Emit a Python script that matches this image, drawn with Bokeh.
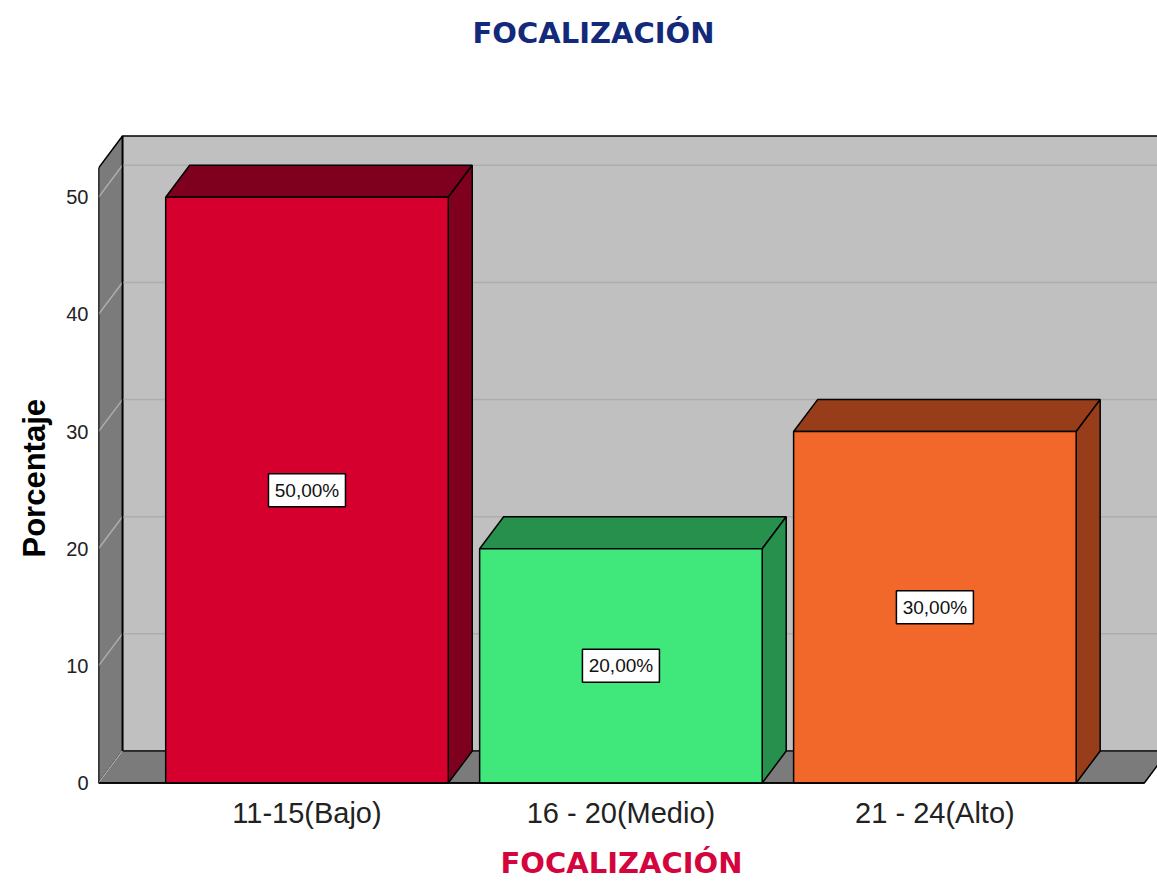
from bokeh.plotting import figure
from bokeh.models import ColumnDataSource, FixedTicker, Range1d, Title
from bokeh.core.properties import value
from bokeh.embed import file_html
from bokeh.resources import INLINE

# ---- data ----
title_text = "FOCALIZACIÓN"
y_title = "Porcentaje"
categories = ["11-15(Bajo)", "16 - 20(Medio)", "21 - 24(Alto)"]
percentages = [50.0, 20.0, 30.0]
y_ticks = [0, 10, 20, 30, 40, 50]
front_colors = ["#d6002f", "#40e87c", "#f2682b"]
shade_colors = ["#7e001e", "#27904c", "#983d1a"]

# ---- geometry constants (3D look) ----
DX = 0.0764      # depth offset in x units
DY = 2.73        # depth offset in y units
X0 = 0.336       # front-left edge of the box
X1 = 3.667       # front-right edge of the floor
YMAX = 52.5      # top of the value axis
HALF_W = 0.45
XR_END = 3.709
YR_START, YR_END = -0.3, 55.7

p = figure(width=1157, height=892,
           x_range=Range1d(X0, XR_END), y_range=Range1d(YR_START, YR_END),
           output_backend="svg", toolbar_location=None,
           min_border_left=98, min_border_right=0,
           min_border_top=130, min_border_bottom=106)
p.outline_line_color = None
p.xgrid.visible = False
p.ygrid.visible = False
p.background_fill_color = "white"
p.border_fill_color = "white"

# ---- walls ----
wall_gray = "#7b7b7b"
back_gray = "#c0c0c0"
p.patch([X0 + DX, X1 + 2, X1 + 2, X0 + DX], [DY, DY, YMAX + DY, YMAX + DY],
        fill_color=back_gray, line_color="black", line_width=1.5)
p.patch([X0, X0, X0 + DX, X0 + DX], [0, YMAX, YMAX + DY, DY],
        fill_color=wall_gray, line_color="black", line_width=1.5)
p.patch([X0, X0 + DX, X1 + DX, X1], [0, DY, DY, 0],
        fill_color=wall_gray, line_color="black", line_width=1.5)

# grid lines on the walls
grid_xs, grid_ys = [], []
for t in y_ticks:
    grid_xs.append([X0, X0 + DX])
    grid_ys.append([t, t + DY])
    if t > 0:
        grid_xs.append([X0 + DX, X1 + 2])
        grid_ys.append([t + DY, t + DY])
p.multi_line(grid_xs, grid_ys, line_color="#adadad", line_width=1.5)
p.line([X0 + DX, X0 + DX], [DY, YMAX + DY], line_color="black", line_width=1.5)
p.line([X0 + DX, X1 + 2], [DY, DY], line_color="#444444", line_width=1.2)

# ---- bars ----
front_xs, front_ys, shade_xs, shade_ys, f_col, s_col = [], [], [], [], [], []
for i, v in enumerate(percentages):
    c = i + 1
    l, r = c - HALF_W, c + HALF_W
    front_xs.append([l, r, r, l]); front_ys.append([0, 0, v, v]); f_col.append(front_colors[i])
    shade_xs.append([l, l + DX, r + DX, r]); shade_ys.append([v, v + DY, v + DY, v]); s_col.append(shade_colors[i])
    shade_xs.append([r, r, r + DX, r + DX]); shade_ys.append([0, v, v + DY, DY]); s_col.append(shade_colors[i])

p.patches(xs="xs", ys="ys", fill_color="c", line_color="black", line_width=1.5,
          source=ColumnDataSource(dict(xs=shade_xs, ys=shade_ys, c=s_col)))
p.patches(xs="xs", ys="ys", fill_color="c", line_color="black", line_width=1.5,
          source=ColumnDataSource(dict(xs=front_xs, ys=front_ys, c=f_col)))

# front axis lines
p.line([X0, X0], [0, YMAX], line_color="black", line_width=1.5)
p.line([X0, X1], [0, 0], line_color="black", line_width=1.5)

# ---- value labels ----
lab_src = ColumnDataSource(dict(
    x=[i + 1 for i in range(len(percentages))],
    y=[v / 2 for v in percentages],
    t=[f"{v:.2f}".replace(".", ",") + "%" for v in percentages]))
p.rect(x="x", y="y", width=77, height=33, width_units="screen", height_units="screen",
       fill_color="white", line_color="black", line_width=1.5, source=lab_src)
p.text(x="x", y="y", text="t", text_align="center", text_baseline="middle",
       text_font=value("Liberation Sans"), text_font_size="19px", text_color="#111111",
       source=lab_src)

# ---- axes ----
p.yaxis.ticker = FixedTicker(ticks=y_ticks)
p.yaxis.axis_line_color = None
p.yaxis.major_tick_out = 0
p.yaxis.major_tick_in = 0
p.yaxis.minor_tick_out = 0
p.yaxis.minor_tick_in = 0
p.yaxis.major_label_standoff = 10
p.yaxis.major_label_text_font = "Liberation Sans"
p.yaxis.major_label_text_font_size = "20px"
p.yaxis.major_label_text_color = "#222222"

p.xaxis.ticker = FixedTicker(ticks=[i + 1 for i in range(len(categories))])
p.xaxis.major_label_overrides = {i + 1: c for i, c in enumerate(categories)}
p.xaxis.axis_line_color = None
p.xaxis.major_tick_out = 0
p.xaxis.major_tick_in = 0
p.xaxis.minor_tick_out = 0
p.xaxis.minor_tick_in = 0
p.xaxis.major_label_standoff = 10
p.xaxis.major_label_text_font = "Liberation Sans"
p.xaxis.major_label_text_font_size = "29px"
p.xaxis.major_label_text_color = "#222222"

# top title: a blank spacer next to the frame, then the title further out
p.add_layout(Title(text=" ", text_font_size="2px", standoff=77), "above")
p.add_layout(Title(text=title_text, align="left", offset=374, standoff=0,
                   text_font="DejaVu Sans", text_font_style="bold",
                   text_font_size="29px", text_color="#13297a"), "above")

# y-axis title on the left, aligned with the front axis
p.add_layout(Title(text=y_title, align="left", offset=229, standoff=24,
                   text_font="Liberation Sans", text_font_style="bold",
                   text_font_size="31px", text_color="black"), "left")

# bottom caption
p.add_layout(Title(text=title_text, align="left", offset=402, standoff=24,
                   text_font="DejaVu Sans", text_font_style="bold",
                   text_font_size="29px", text_color="#d4043c"), "below")

open("out.html", "w").write(file_html(p, INLINE))
